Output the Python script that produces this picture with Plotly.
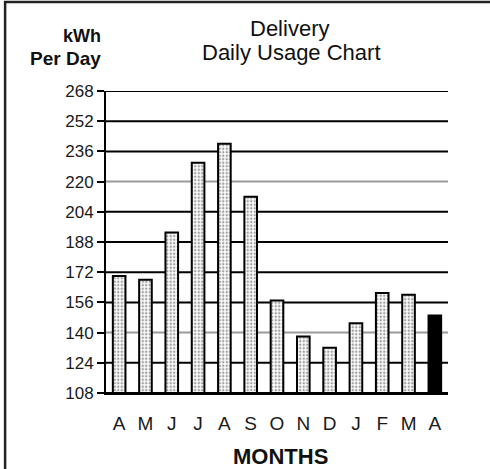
import plotly.graph_objects as go

months = ["A", "M", "J", "J", "A", "S", "O", "N", "D", "J", "F", "M", "A"]
kwh_per_day = [170, 168, 193, 230, 240, 212, 157, 138, 132, 145, 161, 160, 149]
y_ticks = [108, 124, 140, 156, 172, 188, 204, 220, 236, 252, 268]
gray_grid = [140, 220]

x_idx = list(range(len(months)))
n = len(months)
fill_colors = ["white"] * (n - 1) + ["black"]
shapes_pat = ["."] * (n - 1) + [""]

FONT = "Liberation Sans, Arial, sans-serif"

fig = go.Figure()
fig.add_trace(go.Bar(
    x=x_idx, y=[v - y_ticks[0] for v in kwh_per_day], base=y_ticks[0],
    width=0.48,
    marker=dict(
        color=fill_colors,
        line=dict(color="black", width=2),
        pattern=dict(shape=shapes_pat, fgcolor="black", bgcolor="white",
                     size=3.5, solidity=0.4, fillmode="overlay"),
    ),
    hoverinfo="skip",
))

shapes = []
for t in y_ticks:
    shapes.append(dict(type="line", xref="paper", yref="y", x0=0, x1=1, y0=t, y1=t,
                       line=dict(color="#9a9a9a" if t in gray_grid else "black", width=2),
                       layer="below"))
# outer frame (only top/left visible in the reference)
shapes.append(dict(type="rect", xref="paper", yref="paper",
                   x0=-0.295, x1=1.2, y0=-0.4, y1=1.295,
                   line=dict(color="#222", width=2.5), layer="below"))

annotations = [
    dict(text="Delivery", x=0.538, y=1.2086, xref="paper", yref="paper",
         showarrow=False, xanchor="center", yanchor="middle",
         font=dict(family=FONT, size=22, color="#111")),
    dict(text="Daily Usage Chart", x=0.541, y=1.126, xref="paper", yref="paper",
         showarrow=False, xanchor="center", yanchor="middle",
         font=dict(family=FONT, size=22, color="#111")),
    dict(text="<b>kWh</b>", x=-0.009, y=1.182, xref="paper", yref="paper",
         showarrow=False, xanchor="right", yanchor="middle",
         font=dict(family=FONT, size=18, color="#111")),
    dict(text="<b>Per Day</b>", x=-0.009, y=1.109, xref="paper", yref="paper",
         showarrow=False, xanchor="right", yanchor="middle",
         font=dict(family=FONT, size=19, color="#111")),
    dict(text="<b>MONTHS</b>", x=0.509, y=-0.209, xref="paper", yref="paper",
         showarrow=False, xanchor="center", yanchor="middle",
         font=dict(family=FONT, size=22, color="#111")),
]

fig.update_layout(
    width=490, height=469,
    margin=dict(l=106, r=42, t=91, b=76),
    paper_bgcolor="white", plot_bgcolor="white",
    showlegend=False,
    shapes=shapes,
    annotations=annotations,
    xaxis=dict(
        range=[-0.5, n - 0.5], tickmode="array", tickvals=x_idx, ticktext=months,
        showgrid=False, zeroline=False, showline=True, linecolor="black", linewidth=2,
        ticks="", ticklabelstandoff=12,
        tickfont=dict(family=FONT, size=19, color="#1a1a1a"),
        fixedrange=True,
    ),
    yaxis=dict(
        range=[y_ticks[0], y_ticks[-1]], tickmode="array", tickvals=y_ticks,
        showgrid=False, zeroline=False, showline=True, linecolor="black", linewidth=2,
        ticks="outside", ticklen=7, tickwidth=2, tickcolor="black",
        tickfont=dict(family=FONT, size=17, color="#1a1a1a"),
        fixedrange=True,
    ),
)

fig.write_html("out.html", post_script="document.body.style.margin='0';",
               config={"displayModeBar": False})
